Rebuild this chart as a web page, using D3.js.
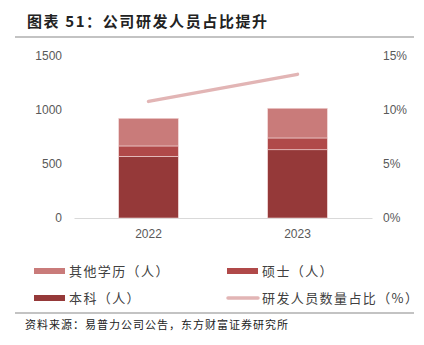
<!DOCTYPE html>
<html><head><meta charset="utf-8">
<script src="https://cdn.jsdelivr.net/npm/d3@7"></script>
<style>body{margin:0;background:#fff;}svg{display:block;font-family:"Noto Sans CJK SC","Noto Sans",sans-serif;}</style>
</head><body><svg id="c" width="424" height="345"></svg>
<script>
const years = ["2022", "2023"];
const bachelor = [571, 632];
const master = [96, 109];
const other = [256, 275];
const ratio = [10.8, 13.3];
const leftTicks = [0, 500, 1000, 1500];
const rightTicks = [0, 5, 10, 15];
const seriesNames = ["本科（人）", "硕士（人）", "其他学历（人）"];
const lineName = "研发人员数量占比（%）";
const colors = {bachelor: "#953939", master: "#b04949", other: "#c97b7a", line: "#e2b5b5"};

const svg = d3.select("#c");
const x0 = 74, x1 = 372, yTop = 56, yBot = 218;
const x = d3.scaleBand().domain(years).range([x0, x1]).paddingInner(0.6).paddingOuter(0.3);
const yL = d3.scaleLinear().domain([0, 1500]).range([yBot, yTop]);
const yR = d3.scaleLinear().domain([0, 15]).range([yBot, yTop]);

// title
svg.append("text").attr("x", 27).attr("y", 27).attr("font-size", 15).attr("font-weight", "bold")
  .attr("letter-spacing", 1.6).attr("fill", "#222").text("图表 51：公司研发人员占比提升");
svg.append("line").attr("x1", 15).attr("x2", 414).attr("y1", 37).attr("y2", 37).attr("stroke", "#888").attr("stroke-width", 1.2);

// axes
const gL = svg.append("g").attr("transform", `translate(${x0},0)`)
  .call(d3.axisLeft(yL).tickValues(leftTicks).tickFormat(d3.format("d")).tickSize(0).tickPadding(12));
gL.select(".domain").remove();
gL.selectAll("text").attr("font-size", 12).attr("fill", "#595959").attr("font-family", "Liberation Sans, Arial, sans-serif");
const gR = svg.append("g").attr("transform", `translate(${x1},0)`)
  .call(d3.axisRight(yR).tickValues(rightTicks).tickFormat(d => d + "%").tickSize(0).tickPadding(11));
gR.select(".domain").remove();
gR.selectAll("text").attr("font-size", 12).attr("fill", "#595959").attr("font-family", "Liberation Sans, Arial, sans-serif");
const gX = svg.append("g").attr("transform", `translate(0,${yBot})`)
  .call(d3.axisBottom(x).tickSize(0).tickPadding(11));
gX.select(".domain").attr("stroke", "#d9d9d9").attr("stroke-width", 1.2);
gX.selectAll("text").attr("font-size", 12).attr("fill", "#595959").attr("font-family", "Liberation Sans, Arial, sans-serif");

// stacked bars
const data = years.map((yr, i) => ({year: yr, bachelor: bachelor[i], master: master[i], other: other[i]}));
const stack = d3.stack().keys(["bachelor", "master", "other"])(data);
svg.append("g").selectAll("g").data(stack).join("g").attr("fill", d => colors[d.key])
  .selectAll("rect").data(d => d).join("rect")
  .attr("x", d => x(d.data.year)).attr("width", x.bandwidth())
  .attr("y", d => yL(d[1])).attr("height", d => yL(d[0]) - yL(d[1]))
  .attr("stroke", "#f2d6d6").attr("stroke-width", 0.6);

// line
const line = d3.line().x((d, i) => x(years[i]) + x.bandwidth() / 2).y(d => yR(d));
svg.append("path").datum(ratio).attr("d", line).attr("fill", "none")
  .attr("stroke", colors.line).attr("stroke-width", 3.5).attr("stroke-linecap", "round");

// legend
const leg = [
  {name: seriesNames[2], color: colors.other, type: "rect", x: 34, y: 271},
  {name: seriesNames[1], color: colors.master, type: "rect", x: 227, y: 271},
  {name: seriesNames[0], color: colors.bachelor, type: "rect", x: 34, y: 298},
  {name: lineName, color: colors.line, type: "line", x: 227, y: 298}
];
const lg = svg.append("g");
leg.forEach(l => {
  if (l.type === "rect") {
    lg.append("rect").attr("x", l.x).attr("y", l.y - 3).attr("width", 31).attr("height", 6).attr("fill", l.color);
  } else {
    lg.append("line").attr("x1", l.x + 1).attr("x2", l.x + 31).attr("y1", l.y).attr("y2", l.y)
      .attr("stroke", l.color).attr("stroke-width", 3.5).attr("stroke-linecap", "round");
  }
  lg.append("text").attr("x", l.x + 35).attr("y", l.y + 5).attr("font-size", 13).attr("letter-spacing", 1.4)
    .attr("fill", "#404040").text(l.name);
});

// footer
svg.append("line").attr("x1", 15).attr("x2", 414).attr("y1", 313).attr("y2", 313).attr("stroke", "#888").attr("stroke-width", 1.2);
svg.append("text").attr("x", 25).attr("y", 329).attr("font-size", 11).attr("letter-spacing", 1)
  .attr("fill", "#222").text("资料来源：易普力公司公告，东方财富证券研究所");
</script></body></html>
